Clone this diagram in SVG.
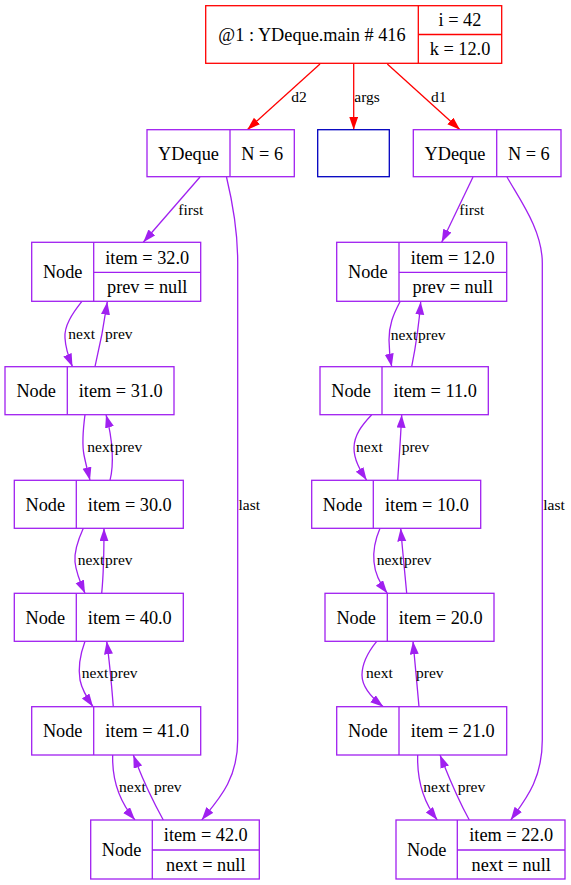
<svg xmlns="http://www.w3.org/2000/svg" width="571" height="885" viewBox="0 0 571 885">
<style>
text{font-family:"Liberation Serif","Times New Roman",serif;fill:#000}
.n{font-size:18.3px;text-anchor:middle}
.l{font-size:15.5px}
.lc{font-size:15.5px;text-anchor:middle}
.box{fill:#fff;stroke:#a020f0;stroke-width:1.3}
.ln{fill:none;stroke:#a020f0;stroke-width:1.3}
.e{fill:none;stroke:#a020f0;stroke-width:1.3;marker-end:url(#ap)}
.er{fill:none;stroke:#ff0000;stroke-width:1.3;marker-end:url(#ar)}
</style>
<defs>
<marker id="ap" markerUnits="userSpaceOnUse" markerWidth="14" markerHeight="10" refX="13" refY="4.5" orient="auto"><path d="M0,0 L13,4.5 L0,9 z" fill="#a020f0"/></marker>
<marker id="ar" markerUnits="userSpaceOnUse" markerWidth="14" markerHeight="10" refX="13" refY="4.5" orient="auto"><path d="M0,0 L13,4.5 L0,9 z" fill="#ff0000"/></marker>
</defs>
<rect width="571" height="885" fill="#fff"/>

<g id="edges">
<path class="er" d="M320,64 L247.3,129.7"/>
<path class="er" d="M353.7,64 L353.7,129.7"/>
<path class="er" d="M387.3,64 L460,129.7"/>
<text class="lc" x="299" y="101.7">d2</text>
<text class="l" x="354.3" y="101.7">args</text>
<text class="lc" x="438.7" y="101.7">d1</text>

<path class="e" d="M200,177 L143.3,242.3"/>
<text class="l" x="178.3" y="215">first</text>
<path class="e" d="M226.5,177 C232,200 237.7,230 237.7,262 L237.7,740 C237.7,780 218,800 201.7,820"/>
<text class="l" x="238.5" y="510">last</text>

<path class="e" d="M81.7,301.7 C72,314 64,326 65,338 C65.5,348 68,356 72.5,366.7"/>
<path class="e" d="M95,366.7 C99,350 104,325 107.3,301.7"/>
<text class="l" x="68.3" y="339.3">next</text>
<text class="l" x="105" y="339.3">prev</text>

<path class="e" d="M85,414.7 C83,430 82,445 84,455 C86,465 88,472 90,480.3"/>
<path class="e" d="M110,480.3 C114,465 113,440 106,414.7"/>
<text class="l" x="87.3" y="451.7">next</text>
<text class="l" x="114.7" y="451.7">prev</text>

<path class="e" d="M83.3,528.3 C78,540 74,552 75,562 C76,572 80,582 85,593.3"/>
<path class="e" d="M101.7,593.3 C103.5,575 104,555 104,528.3"/>
<text class="l" x="77.7" y="565">next</text>
<text class="l" x="105" y="565">prev</text>

<path class="e" d="M85,641.3 C80,655 78,668 80,680 C82,690 87,698 93,706.7"/>
<path class="e" d="M113.3,706.7 C112,690 110,665 106.7,641.3"/>
<text class="l" x="81.7" y="678">next</text>
<text class="l" x="110" y="678">prev</text>

<path class="e" d="M112.7,755 C112,778 118,800 135,820"/>
<path class="e" d="M163.3,820 C155,805 142,778 133.3,755"/>
<text class="l" x="119" y="791.7">next</text>
<text class="l" x="154" y="791.7">prev</text>

<path class="e" d="M473,177 L441.7,242.3"/>
<text class="l" x="459.3" y="215">first</text>
<path class="e" d="M507,177 C520,200 542.3,230 542.3,263 L542.3,740 C542.3,780 525,800 510.7,820"/>
<text class="l" x="543.3" y="510">last</text>

<path class="e" d="M400,301.7 C393,315 389,325 389,340 C389,350 390,358 391.7,366.7"/>
<path class="e" d="M411.7,366.7 C415,350 419,325 420.7,301.7"/>
<text class="l" x="390.7" y="340">next</text>
<text class="l" x="418" y="340">prev</text>

<path class="e" d="M371.7,414.7 C362,425 354,435 354,448 C354,460 360,470 366.7,480.3"/>
<path class="e" d="M397.7,480.3 C399,460 400.5,440 401.7,414.7"/>
<text class="l" x="356" y="451.7">next</text>
<text class="l" x="401.7" y="451.7">prev</text>

<path class="e" d="M380,528.3 C375,540 373,552 374,562 C375,575 381,585 387.3,593.3"/>
<path class="e" d="M406.7,593.3 C404.5,570 402.5,550 400.7,528.3"/>
<text class="l" x="376.7" y="565">next</text>
<text class="l" x="404" y="565">prev</text>

<path class="e" d="M376.7,641.3 C368,652 362,663 362,675 C362,688 372,698 383.3,706.7"/>
<path class="e" d="M419,706.7 C417,685 415,662 413,641.3"/>
<text class="l" x="366" y="678">next</text>
<text class="l" x="416" y="678">prev</text>

<path class="e" d="M417.7,755 C417,778 422,800 437.3,820"/>
<path class="e" d="M469.3,820 C461,805 449,778 440,755"/>
<text class="l" x="423.3" y="791.7">next</text>
<text class="l" x="457.7" y="791.7">prev</text>
</g>

<g id="main">
<rect x="205.7" y="5.7" width="296" height="57.6" fill="#fff" stroke="#ff0000" stroke-width="1.3"/>
<path d="M418.3,5.7 V63.3 M418.3,34.5 H501.7" stroke="#ff0000" stroke-width="1.3" fill="none"/>
<text class="n" x="312" y="40.5">@1 : YDeque.main # 416</text>
<text class="n" x="460" y="26">i = 42</text>
<text class="n" x="460" y="55.3">k = 12.0</text>
</g>

<g id="deque_d2">
<rect class="box" x="147" y="129.7" width="147.3" height="47"/>
<path class="ln" d="M230,129.7 V176.7"/>
<text class="n" x="188.5" y="159.7">YDeque</text>
<text class="n" x="262.2" y="159.7">N = 6</text>
</g>

<g id="args">
<rect x="317.7" y="129.7" width="71.6" height="47" fill="#fff" stroke="#0000c0" stroke-width="1.3"/>
</g>

<g id="deque_d1">
<rect class="box" x="413.3" y="129.7" width="147.7" height="47"/>
<path class="ln" d="M496.7,129.7 V176.7"/>
<text class="n" x="455" y="159.7">YDeque</text>
<text class="n" x="528.8" y="159.7">N = 6</text>
</g>

<g id="node32">
<rect class="box" x="31.7" y="242.3" width="169" height="59"/>
<path class="ln" d="M93.7,242.3 V301.3 M93.7,272.3 H200.7"/>
<text class="n" x="62.7" y="278.3">Node</text>
<text class="n" x="147.2" y="263.5">item = 32.0</text>
<text class="n" x="147.2" y="293">prev = null</text>
</g>
<g id="node31">
<rect class="box" x="5" y="366.7" width="169" height="48"/>
<path class="ln" d="M67.3,366.7 V414.7"/>
<text class="n" x="36.2" y="397">Node</text>
<text class="n" x="120.7" y="397">item = 31.0</text>
</g>
<g id="node30">
<rect class="box" x="14.3" y="480.3" width="169" height="48"/>
<path class="ln" d="M76.3,480.3 V528.3"/>
<text class="n" x="45.3" y="510.6">Node</text>
<text class="n" x="129.8" y="510.6">item = 30.0</text>
</g>
<g id="node40">
<rect class="box" x="14.3" y="593.3" width="169" height="48"/>
<path class="ln" d="M76.3,593.3 V641.3"/>
<text class="n" x="45.3" y="623.6">Node</text>
<text class="n" x="129.8" y="623.6">item = 40.0</text>
</g>
<g id="node41">
<rect class="box" x="31.7" y="706.7" width="169" height="48.3"/>
<path class="ln" d="M93.7,706.7 V755"/>
<text class="n" x="62.7" y="737">Node</text>
<text class="n" x="147.2" y="737">item = 41.0</text>
</g>
<g id="node42">
<rect class="box" x="90.7" y="820" width="168.6" height="59"/>
<path class="ln" d="M152.3,820 V879 M152.3,850 H259.3"/>
<text class="n" x="121.5" y="856">Node</text>
<text class="n" x="205.8" y="841">item = 42.0</text>
<text class="n" x="205.8" y="870.5">next = null</text>
</g>

<g id="node12">
<rect class="box" x="336.7" y="242.3" width="170" height="59"/>
<path class="ln" d="M399,242.3 V301.3 M399,272.3 H506.7"/>
<text class="n" x="367.8" y="278.3">Node</text>
<text class="n" x="452.8" y="263.5">item = 12.0</text>
<text class="n" x="452.8" y="293">prev = null</text>
</g>
<g id="node11">
<rect class="box" x="320" y="366.7" width="168.3" height="48"/>
<path class="ln" d="M382,366.7 V414.7"/>
<text class="n" x="351" y="397">Node</text>
<text class="n" x="435.2" y="397">item = 11.0</text>
</g>
<g id="node10">
<rect class="box" x="311.7" y="480.3" width="169" height="48"/>
<path class="ln" d="M373.3,480.3 V528.3"/>
<text class="n" x="342.5" y="510.6">Node</text>
<text class="n" x="427" y="510.6">item = 10.0</text>
</g>
<g id="node20">
<rect class="box" x="325" y="593.3" width="169" height="48"/>
<path class="ln" d="M387.3,593.3 V641.3"/>
<text class="n" x="356.2" y="623.6">Node</text>
<text class="n" x="440.7" y="623.6">item = 20.0</text>
</g>
<g id="node21">
<rect class="box" x="336.7" y="706.7" width="170" height="48.3"/>
<path class="ln" d="M399,706.7 V755"/>
<text class="n" x="367.8" y="737">Node</text>
<text class="n" x="452.8" y="737">item = 21.0</text>
</g>
<g id="node22">
<rect class="box" x="396" y="820" width="169" height="59"/>
<path class="ln" d="M457.3,820 V879 M457.3,850 H565"/>
<text class="n" x="426.7" y="856">Node</text>
<text class="n" x="511.2" y="841">item = 22.0</text>
<text class="n" x="511.2" y="870.5">next = null</text>
</g>
</svg>
